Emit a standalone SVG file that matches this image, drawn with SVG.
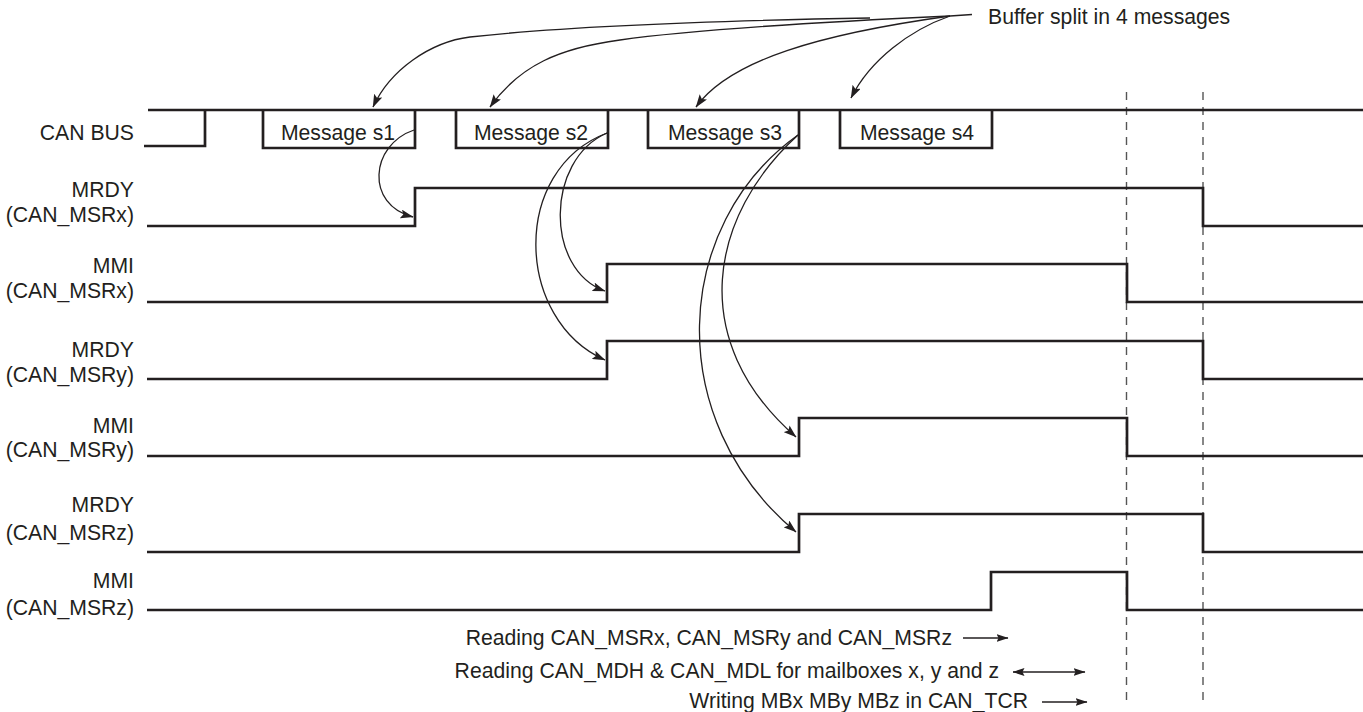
<svg xmlns="http://www.w3.org/2000/svg" width="1363" height="712" viewBox="0 0 1363 712">
<style>
text{font-family:"Liberation Sans",Arial,sans-serif;font-size:21.2px;fill:#231f20}
.lbl{text-anchor:end}
.mid{text-anchor:middle}
.wave{fill:none;stroke:#231f20;stroke-width:2.7;stroke-linejoin:miter;stroke-linecap:butt}
.dash{fill:none;stroke:#555;stroke-width:1.4;stroke-dasharray:8 7}
.cur{fill:none;stroke:#231f20;stroke-width:1.3}
</style>
<defs>
<marker id="ah" viewBox="0 0 13 9" refX="12.5" refY="4.5" markerWidth="13" markerHeight="9" orient="auto-start-reverse" markerUnits="userSpaceOnUse">
<path d="M0,0 L13,4.5 L0,9 L2.5,4.5 z" fill="#231f20"/>
</marker>
<marker id="ahs" viewBox="0 0 12 8" refX="11.5" refY="4" markerWidth="12" markerHeight="8" orient="auto-start-reverse" markerUnits="userSpaceOnUse">
<path d="M0,0 L12,4 L0,8 L2,4 z" fill="#231f20"/>
</marker>
</defs>
<rect width="1363" height="712" fill="#fff"/>

<g id="guides">
<line class="dash" x1="1126.5" y1="92" x2="1126.5" y2="706"/>
<line class="dash" x1="1203" y1="92" x2="1203" y2="706"/>
</g>

<g id="can-bus">
<text class="lbl" x="134" y="140">CAN BUS</text>
<path class="wave" d="M148,110 H1363"/>
<path class="wave" d="M144,146 H205 V110"/>
</g>
<g id="msg-s1">
<path class="wave" d="M263,110 V148 H415 V110"/>
<text class="mid" x="338" y="140">Message s1</text>
</g>
<g id="msg-s2">
<path class="wave" d="M456,110 V148 H608 V110"/>
<text class="mid" x="531" y="140">Message s2</text>
</g>
<g id="msg-s3">
<path class="wave" d="M648,110 V148 H799 V110"/>
<text class="mid" x="725" y="140">Message s3</text>
</g>
<g id="msg-s4">
<path class="wave" d="M840,110 V148 H992 V110"/>
<text class="mid" x="917" y="140">Message s4</text>
</g>

<g id="mrdy-x">
<text class="lbl" x="134" y="197">MRDY</text>
<text class="lbl" x="134" y="222">(CAN_MSRx)</text>
<path class="wave" d="M147,226 H415 V188 H1203 V226 H1363"/>
</g>
<g id="mmi-x">
<text class="lbl" x="134" y="273">MMI</text>
<text class="lbl" x="134" y="298">(CAN_MSRx)</text>
<path class="wave" d="M147,302 H607 V264 H1127 V302 H1363"/>
</g>
<g id="mrdy-y">
<text class="lbl" x="134" y="357">MRDY</text>
<text class="lbl" x="134" y="382">(CAN_MSRy)</text>
<path class="wave" d="M147,379 H607 V341 H1203 V379 H1363"/>
</g>
<g id="mmi-y">
<text class="lbl" x="134" y="433">MMI</text>
<text class="lbl" x="134" y="457">(CAN_MSRy)</text>
<path class="wave" d="M147,456 H799 V418 H1127 V456 H1363"/>
</g>
<g id="mrdy-z">
<text class="lbl" x="134" y="512">MRDY</text>
<text class="lbl" x="134" y="540">(CAN_MSRz)</text>
<path class="wave" d="M147,552 H799 V514 H1203 V552 H1363"/>
</g>
<g id="mmi-z">
<text class="lbl" x="134" y="588">MMI</text>
<text class="lbl" x="134" y="615">(CAN_MSRz)</text>
<path class="wave" d="M147,610 H991 V572 H1127 V610 H1363"/>
</g>

<g id="buffer-label">
<text x="988" y="24">Buffer split in 4 messages</text>
</g>

<g id="connectors">
<path class="cur" d="M950,16 L972,14.5"/>
<path class="cur" marker-end="url(#ah)" d="M870,18 C700,21 560,27 470,37 C430,42 390,70 373,107"/>
<path class="cur" marker-end="url(#ah)" d="M950,16 C820,22 690,30 620,40 C560,48 520,65 490,107"/>
<path class="cur" marker-end="url(#ah)" d="M950,16 C820,34 730,60 696,107"/>
<path class="cur" marker-end="url(#ah)" d="M950,16 C910,30 870,60 851,98"/>
<path class="cur" marker-end="url(#ah)" d="M414,130 C370,145 365,205 413,217"/>
<path class="cur" marker-end="url(#ah)" d="M607,133 C545,160 545,270 605,291"/>
<path class="cur" marker-end="url(#ah)" d="M607,133 C510,170 515,320 605,360"/>
<path class="cur" marker-end="url(#ah)" d="M798,135 C710,215 685,340 796,437"/>
<path class="cur" marker-end="url(#ah)" d="M798,135 C672,225 662,420 796,532"/>
<path class="cur" marker-end="url(#ahs)" d="M963,638 H1008"/>
<path class="cur" marker-start="url(#ahs)" marker-end="url(#ahs)" d="M1013,672 H1085"/>
<path class="cur" marker-end="url(#ahs)" d="M1042,702 H1087"/>
</g>

<g id="notes">
<text class="lbl" x="952" y="645">Reading CAN_MSRx, CAN_MSRy and CAN_MSRz</text>
<text class="lbl" x="999" y="678">Reading CAN_MDH &amp; CAN_MDL for mailboxes x, y and z</text>
<text class="lbl" x="1028" y="708">Writing MBx MBy MBz in CAN_TCR</text>
</g>
</svg>
